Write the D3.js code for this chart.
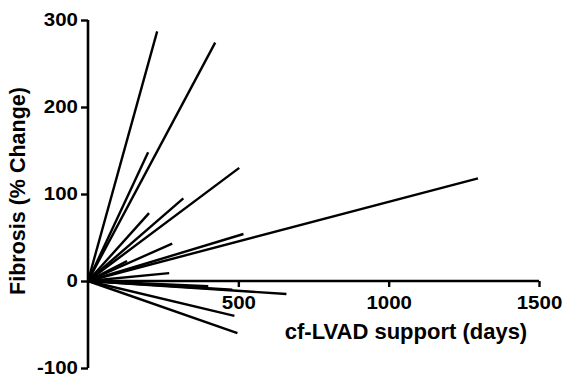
<!DOCTYPE html>
<html><head><meta charset="utf-8">
<script src="https://cdn.jsdelivr.net/npm/d3@7"></script>
<style>body{margin:0;background:#fff}svg text{font-family:"Liberation Sans",Arial,sans-serif;font-weight:bold;fill:#000}</style>
</head><body>
<svg id="c" width="565" height="378"></svg>
<script>
const days   = [230, 423, 200, 503, 317, 203, 280, 517, 1297, 270, 130, 660, 480, 400, 180, 487, 497];
const change = [287, 274, 148, 130,  95,  78,  43,  54,  118,   9,  23, -15, -10,  -6,  -3, -40, -60];
const xTicks = [500, 1000, 1500];
const yTicks = [-100, 0, 100, 200, 300];

const svg = d3.select("#c");
const x = d3.scaleLinear().domain([0, 1500]).range([88, 539]);
const y = d3.scaleLinear().domain([-100, 300]).range([368, 20]);

const g = svg.append("g");
days.forEach((d, i) => {
  g.append("line")
    .attr("x1", x(0)).attr("y1", y(0))
    .attr("x2", x(d)).attr("y2", y(change[i]))
    .attr("stroke", "#000").attr("stroke-width", 2.4);
});

const fmt = v => String(v);
const xAxis = svg.append("g").attr("transform", `translate(0,${y(0)})`)
  .call(d3.axisBottom(x).tickValues(xTicks).tickFormat(fmt).tickSize(6).tickPadding(0).tickSizeOuter(0));
const yAxis = svg.append("g").attr("transform", `translate(${x(0)},0)`)
  .call(d3.axisLeft(y).tickValues(yTicks).tickFormat(fmt).tickSize(7).tickPadding(0).tickSizeOuter(0));
[xAxis, yAxis].forEach(a => {
  a.select(".domain").attr("stroke", "#000").attr("stroke-width", 2.6);
  a.selectAll(".tick line").attr("stroke", "#000").attr("stroke-width", 2.4);
  a.selectAll("text").style("font-size", "17.5px").attr("font-family", null);
});
xAxis.select(".domain").attr("d", `M${x(0)},0H${x(1500)}`);
yAxis.select(".domain").attr("d", `M0,${y(-100)}V${y(300)}`);
xAxis.selectAll(".tick text").attr("y", 0).attr("dy", "1.6em").attr("transform", "scale(1.17,1)");
yAxis.selectAll(".tick text").attr("x", -10 / 1.17).attr("transform", "scale(1.17,1)");

svg.append("text").attr("x", 406).attr("y", 339).attr("text-anchor", "middle")
  .style("font-size", "22px").text("cf-LVAD support (days)");
svg.append("text").attr("transform", "translate(25,191) rotate(-90)").attr("text-anchor", "middle")
  .style("font-size", "21.5px").text("Fibrosis (% Change)");
</script>
</body></html>
